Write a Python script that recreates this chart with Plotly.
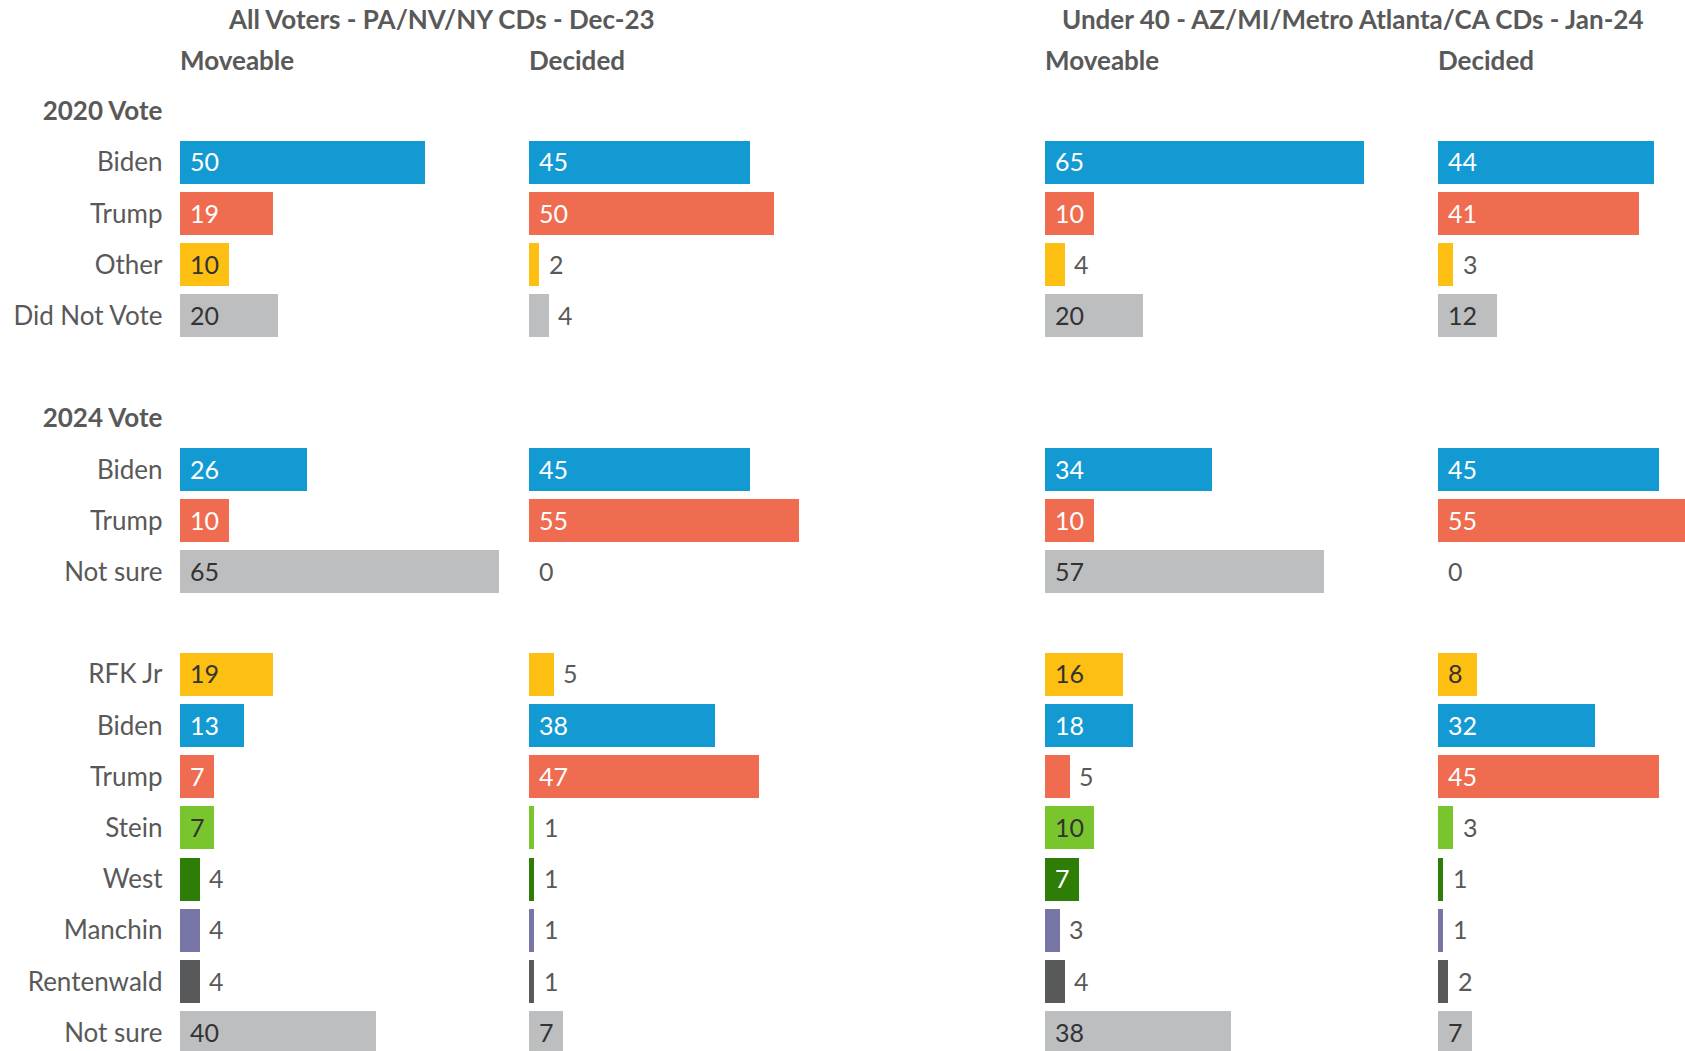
import plotly.graph_objects as go

# ---------------- data ----------------
panel_titles = ["All Voters - PA/NV/NY CDs - Dec-23",
                "Under 40 - AZ/MI/Metro Atlanta/CA CDs - Jan-24"]
panel_subtitles = ["Moveable", "Decided", "Moveable", "Decided"]

group_titles = ["2020 Vote", "2024 Vote", None]
rows_2020 = ["Biden", "Trump", "Other", "Did Not Vote"]
rows_2024 = ["Biden", "Trump", "Not sure"]
rows_ballot = ["RFK Jr", "Biden", "Trump", "Stein", "West", "Manchin", "Rentenwald", "Not sure"]

# values: [All Moveable, All Decided, U40 Moveable, U40 Decided]
vals_2020 = [
    [50, 19, 10, 20],
    [45, 50, 2, 4],
    [65, 10, 4, 20],
    [44, 41, 3, 12],
]
vals_2024 = [
    [26, 10, 65],
    [45, 55, 0],
    [34, 10, 57],
    [45, 55, 0],
]
vals_ballot = [
    [19, 13, 7, 7, 4, 4, 4, 40],
    [5, 38, 47, 1, 1, 1, 1, 7],
    [16, 18, 5, 10, 7, 3, 4, 38],
    [8, 32, 45, 3, 1, 1, 2, 7],
]

# ---------------- styles ----------------
colors = {
    "Biden": "#149AD3", "Trump": "#F06C50", "Other": "#FDBF12",
    "Did Not Vote": "#BDBEC0", "Not sure": "#BDBEC0", "RFK Jr": "#FDBF12",
    "Stein": "#79C52D", "West": "#2E7D06", "Manchin": "#7776A7",
    "Rentenwald": "#58595B",
}
inside_text_color = {
    "Biden": "white", "Trump": "white", "West": "white",
}
FONT = "Lato"
GREY = "#595959"
W, H = 1685, 1051
PXU = 4.9  # pixels per unit
panel_px = [(179.5, 520), (528.7, 1032), (1044.5, 1430), (1437.8, 1685)]

groups = [(group_titles[0], rows_2020, vals_2020),
          (group_titles[1], rows_2024, vals_2024),
          (group_titles[2], rows_ballot, vals_ballot)]

# row positions (numeric y)
tickvals, ticktext = [], []
row_pos = []  # list of (pos, name, group_idx, row_idx)
pos = 0
for gi, (title, rows, vals) in enumerate(groups):
    if title:
        tickvals.append(pos)
        ticktext.append(f"<b>{title}</b>")
        pos += 1
    for ri, name in enumerate(rows):
        tickvals.append(pos)
        ticktext.append(name)
        row_pos.append((pos, name, gi, ri))
        pos += 1
    pos += 1

fig = go.Figure()
annotations = []
for p in range(4):
    xa = "x" if p == 0 else f"x{p+1}"
    ys, xs, cols = [], [], []
    for (ypos, name, gi, ri) in row_pos:
        v = groups[gi][2][p][ri]
        ys.append(ypos); xs.append(v); cols.append(colors[name])
        inside = v >= 7
        annotations.append(dict(
            x=0 if inside else v, y=ypos, xref=xa, yref="y",
            text=str(v), showarrow=False, xanchor="left", yanchor="middle",
            xshift=8, yshift=1,
            font=dict(family=FONT, size=25,
                      color=(inside_text_color.get(name, "#333333") if inside else GREY)),
        ))
    fig.add_trace(go.Bar(
        x=xs, y=ys, orientation="h", width=0.84,
        marker=dict(color=cols, line=dict(width=0)),
        xaxis=xa, yaxis="y", showlegend=False, hoverinfo="skip",
    ))

layout_axes = {}
for p, (a, b) in enumerate(panel_px):
    key = "xaxis" if p == 0 else f"xaxis{p+1}"
    layout_axes[key] = dict(
        domain=[a / W, b / W], range=[0, (b - a) / PXU],
        visible=False, fixedrange=True, anchor="y",
    )
    annotations.append(dict(
        x=0, xref=("x" if p == 0 else f"x{p+1}") + " domain", y=-1.0, yref="y",
        text=f"<b>{panel_subtitles[p]}</b>", showarrow=False,
        xanchor="left", yanchor="middle", xshift=-2,
        font=dict(family=FONT, size=26, color=GREY),
    ))

for t, cx in zip(panel_titles, [441, 1353]):
    annotations.append(dict(
        x=cx / W, xref="paper", y=-1.8, yref="y", text=f"<b>{t}</b>",
        showarrow=False, xanchor="center", yanchor="middle",
        font=dict(family=FONT, size=26, color=GREY),
    ))

slot = 51.2
first_center = 162.3
y_top = 1 - first_center / slot
y_bot = 1 + (H - first_center) / slot

fig.update_layout(
    width=W, height=H,
    margin=dict(l=0, r=0, t=0, b=0),
    plot_bgcolor="white", paper_bgcolor="white",
    yaxis=dict(
        range=[y_bot, y_top], tickvals=tickvals, ticktext=ticktext,
        showgrid=False, zeroline=False, showline=False, ticks="",
        ticklabelstandoff=16, anchor="x", domain=[0, 1], fixedrange=True,
        tickfont=dict(family=FONT, size=26, color=GREY),
    ),
    annotations=annotations,
    bargap=0,
    **layout_axes,
)

fig.write_html("out.html",
               config={"displayModeBar": False},
               post_script="document.body.style.margin='0';document.body.style.overflow='hidden';")
